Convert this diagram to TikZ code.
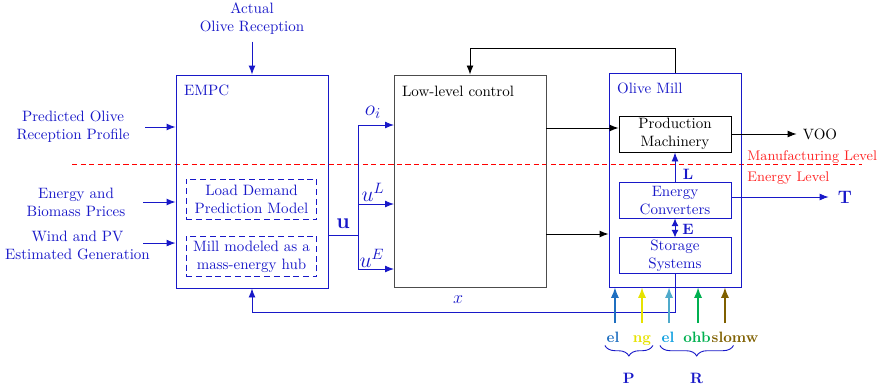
\documentclass[tikz,border=0pt]{standalone}
\usepackage{amsmath,amssymb}
\usepackage{xcolor}
\usepackage{tikz}
\usetikzlibrary{arrows.meta,positioning,calc,fit,decorations.pathreplacing}
\definecolor{millblue}{HTML}{1818C8}
\definecolor{elblue}{HTML}{1F6FC0}
\definecolor{ngyellow}{HTML}{E6E200}
\definecolor{elcyan}{HTML}{4FAACB}
\definecolor{elcyantext}{HTML}{10A0E0}
\definecolor{ohbgreen}{HTML}{00B050}
\definecolor{slomwbrown}{HTML}{7F6000}
\tikzset{
    flow label/.style={text=millblue, align=center},
    flow box/.style={draw=millblue, line width=0.6pt, inner sep=0pt},
    ctrl box/.style={draw=black!70, line width=0.65pt, inner sep=0pt},
    flow title/.style={text=millblue, anchor=north west, inner sep=0pt},
    flow part/.style={
        draw=millblue,
        line width=0.6pt,
        minimum width=74.7pt,
        minimum height=23.5pt,
        align=center,
        text=millblue,
        inner sep=0pt
    },
    flow model/.style={flow part, line width=0.65pt, dash pattern=on 4pt off 2.5pt, minimum width=87.3pt, minimum height=27.3pt},
    flow math/.style={text=millblue, font=\Large, inner sep=1pt},
    flow bold/.style={text=millblue, font=\bfseries, inner sep=1pt},
    flow arrow/.style={-{Latex[length=6pt,width=4.6pt]}, line width=0.6pt, draw=millblue},
    plain arrow/.style={-{Latex[length=6pt,width=4.6pt]}, line width=0.6pt, draw=black},
    level line/.style={red, dash pattern=on 3.5pt off 2.2pt, line width=0.6pt},
    level label/.style={text=red!85, anchor=west, inner sep=0pt, font=\fontsize{9.3}{11}\selectfont},
    input label/.style={font=\bfseries, inner sep=1pt, text height=1.5ex, text depth=0.25ex},
    input arrow/.style={-{Latex[length=7pt,width=5.5pt]}, line width=1pt, shorten <=5pt},
    flow brace/.style={decorate, decoration={brace, mirror, amplitude=7pt}, draw=millblue, line width=0.6pt}
}

\begin{document}
\begin{tikzpicture}[x=0.6667pt, y=-0.6667pt]
\useasboundingbox (0,0) rectangle (877,389);

% level separation
\coordinate (lvl west) at (72,164);
\coordinate (lvl east) at (862,164);
\draw[level line] (lvl west) -- (lvl east);
\node[level label] (manlvl) at (747,157) {Manufacturing Level};
\node[level label] (enlvl) at (747,178) {Energy Level};

% EMPC
\node[flow box, fit={(176,75) (328,288)}] (empc) {};
\node[flow title] (empct) at ([xshift=5.5pt,yshift=-6.8pt]empc.north west) {EMPC};
\node[flow model] (ldp) at (251.5,199.5) {Load Demand\\Prediction Model};
\node[flow model] (hub) at (251.5,256.5) {Mill modeled as a\\mass-energy hub};

\node[flow label] (actual) at (252,19) {Actual\\Olive Reception};
\node[flow label] (pred) at (73,127) {Predicted Olive\\Reception Profile};
\node[flow label] (price) at (76,202) {Energy and\\Biomass Prices};
\node[flow label] (wind) at (77.5,245) {Wind and PV\\Estimated Generation};
\draw[flow arrow] ([yshift=-1pt]actual.south) -- (empc.north);
\draw[flow arrow] ([xshift=7pt]pred.east) -- (pred.east -| empc.west);
\draw[flow arrow] ([xshift=8.5pt]price.east) -- (price.east -| empc.west);
\coordinate (wind out) at ([xshift=-8pt,yshift=1.3pt]wind.east);
\draw[flow arrow] (wind out) -- (wind out -| empc.west);

% low-level control
\node[ctrl box, fit={(394,75) (546,287)}] (llc) {};
\node[anchor=north west, inner sep=0pt] (llct) at ([xshift=5.5pt,yshift=-7.3pt]llc.north west) {Low-level control};

\coordinate (usplit) at (358,235);
\coordinate (oi in) at (394,125);
\coordinate (ul in) at (394,204);
\coordinate (ue in) at (394,269);
\draw[millblue, line width=0.6pt] (empc.east |- usplit) -- (usplit);
\draw[flow arrow] (usplit) |- (oi in);
\draw[flow arrow] (usplit) |- (ul in);
\draw[flow arrow] (usplit) |- (ue in);
\node[flow bold, font=\Large\bfseries] (ulab) at (343,224) {u};
\node[flow math] (oilab) at (373,112) {$o_i$};
\node[flow math] (ullab) at (373,192) {$u^L$};
\node[flow math] (uelab) at (372,258) {$u^E$};

% Olive Mill
\node[flow box, fit={(609,73) (741,287)}] (mill) {};
\node[flow title] (millt) at ([xshift=5.5pt,yshift=-6.8pt]mill.north west) {Olive Mill};
\node[flow part, draw=black, text=black, minimum height=24pt] (pm) at (675,134) {Production\\Machinery};
\node[flow part] (ec) at (675,200.5) {Energy\\Converters};
\node[flow part] (ss) at (675,255.5) {Storage\\Systems};
\draw[flow arrow] (ec.north) -- (pm.south);
\draw[flow arrow, {Latex[length=5pt,width=4.6pt]}-{Latex[length=5pt,width=4.6pt]}] (ec.south) -- (ss.north);
\node[flow bold] (lflow) at (688,174) {L};
\node[flow bold] (eflow) at (688,229) {E};

\coordinate (pm in) at ([yshift=4pt]pm.west);
\coordinate (mill in) at ([yshift=-36pt]mill.west);
\draw[plain arrow] (llc.east |- pm in) -- (pm in);
\draw[plain arrow] (llc.east |- mill in) -- (mill in);
\draw[plain arrow] (mill.north) -- ++(0,-24) -| (llc.north);

\node[inner sep=1pt] (voo) at (820,134) {VOO};
\node[flow bold, font=\large\bfseries] (tout) at (845,197) {T};
\draw[plain arrow] (pm.east) -- ([xshift=-3pt]voo.west);
\draw[flow arrow] (ec.east |- tout.west) -- ([xshift=-5pt]tout.west);

% state feedback
\draw[flow arrow] (ss.south) -- ++(0,39) -| (empc.south);
\node[flow math, font=\large] (xlab) at (458,300) {$x$};

% external inputs
\node[input label, text=elblue] (ela) at (613,338) {el};
\node[input label, text=ngyellow] (ng) at (642,338) {ng};
\node[input label, text=elcyantext] (elb) at (668,338) {el};
\node[input label, text=ohbgreen] (ohb) at (697,338) {ohb};
\node[input label, text=slomwbrown] (slomw) at (735,338) {slomw};
\coordinate (ela up) at ([xshift=1.3pt]ela.north);
\coordinate (elb up) at ([xshift=0.7pt]elb.north);
\coordinate (ohb up) at ([xshift=0.7pt]ohb.north);
\coordinate (slomw up) at ([xshift=-6.7pt]slomw.north);
\draw[input arrow, draw=elblue] (ela up) -- (ela up |- mill.south);
\draw[input arrow, draw=ngyellow] (ng.north) -- (ng.north |- mill.south);
\draw[input arrow, draw=elcyan] (elb up) -- (elb up |- mill.south);
\draw[input arrow, draw=ohbgreen] (ohb up) -- (ohb up |- mill.south);
\draw[input arrow, draw=slomwbrown] (slomw up) -- (slomw up |- mill.south);

\draw[flow brace] (ela.south west) -- (ng.south east) node[flow bold, midway, below=17pt] (plab) {P};
\draw[flow brace] (elb.south west) -- ([xshift=-1pt]slomw.south) node[flow bold, midway, below=17pt] (rlab) {R};
\end{tikzpicture}
\end{document}
